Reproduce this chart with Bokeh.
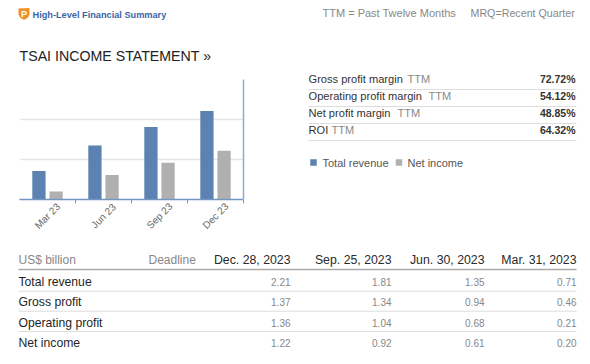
from bokeh.plotting import figure
from bokeh.models import Range1d, ColumnDataSource, FixedTicker
from bokeh.core.properties import value
from bokeh.transform import dodge
from bokeh.embed import file_html
from bokeh.resources import INLINE

quarters = ["Mar 23", "Jun 23", "Sep 23", "Dec 23"]
total_revenue = [0.71, 1.35, 1.81, 2.21]
gross_profit = [0.46, 0.94, 1.34, 1.37]
operating_profit = [0.21, 0.68, 1.04, 1.36]
net_income = [0.20, 0.61, 0.92, 1.22]
deadlines = ["Mar. 31, 2023", "Jun. 30, 2023", "Sep. 25, 2023", "Dec. 28, 2023"]
kpi_names = ["Gross profit margin", "Operating profit margin", "Net profit margin", "ROI"]
kpi_values = ["72.72%", "54.12%", "48.85%", "64.32%"]
row_names = ["Total revenue", "Gross profit", "Operating profit", "Net income"]

FONT = "Liberation Sans"
BLUE, GREY = "#5b82b0", "#b0b0b0"

# page pixels of the plot frame
FL, FR, FT, FB = 19, 243, 79, 199
W, H = 584, 356

p = figure(width=W, height=H, output_backend="svg", toolbar_location=None,
           x_range=Range1d(0, len(quarters)), y_range=Range1d(0, 3),
           min_border_left=FL, min_border_right=W - FR,
           min_border_top=FT, min_border_bottom=H - FB,
           outline_line_color=None, background_fill_color="white")
p.extra_x_ranges["page"] = Range1d(FL, FR)
p.extra_y_ranges["page"] = Range1d(FB, FT)

centers = [i + 0.5 for i in range(len(quarters))]
edges = [i + 1 for i in range(len(quarters))]

# axes
p.yaxis.visible = False
p.xaxis.ticker = FixedTicker(ticks=[], minor_ticks=edges)
p.xaxis.axis_line_color = "#7396c0"
p.xaxis.axis_line_width = 1.5
p.xaxis.minor_tick_line_color = "#7396c0"
p.xaxis.minor_tick_in = 0
p.xaxis.minor_tick_out = 4
p.xgrid.visible = False
p.ygrid.grid_line_color = "#e6e6e6"
p.ygrid.grid_line_width = 1.5
p.ygrid.ticker = FixedTicker(ticks=[0, 1, 2, 3])

src = ColumnDataSource(dict(c=centers, q=quarters, rev=total_revenue, net=net_income, ly=[-0.41] * 4))
p.vbar(x=dodge("c", -0.153), top="rev", width=0.237, source=src, fill_color=BLUE, line_color=None)
p.vbar(x=dodge("c", 0.153), top="net", width=0.237, source=src, fill_color=GREY, line_color=None)
p.text(x="c", y="ly", text="q", source=src, angle=0.785, level="overlay", text_align="center",
       text_baseline="middle", text_font=value(FONT), text_font_size="10px", text_color="#666666")

# right-hand edge
p.segment(x0=[FR], x1=[FR], y0=[FT], y1=[FB], x_range_name="page", y_range_name="page",
          line_color="#8fabcc", line_width=1.5, level="overlay")


def txt(x, y, s, size, color, align="left", style="normal"):
    p.text(x=[x], y=[y], text=[s], x_range_name="page", y_range_name="page", level="overlay",
           text_font=value(FONT), text_font_size=f"{size}px", text_color=color,
           text_align=align, text_baseline="middle", text_font_style=style)


def hline(x0, x1, y, color, width=1):
    p.segment(x0=[x0], x1=[x1], y0=[y], y1=[y], x_range_name="page", y_range_name="page",
              line_color=color, line_width=width, level="overlay")


# logo
p.patch(x=[18, 29, 29, 27.5, 23.5, 19.5, 18], y=[8, 7.5, 14, 17, 19.5, 17, 14],
        x_range_name="page", y_range_name="page", fill_color="#f0902a", line_color=None, level="overlay")
txt(23.5, 13.5, "P", 9, "white", "center", "bold")

txt(32, 14, "High-Level Financial Summary", 9.2, "#3a66a8", style="bold")
txt(322, 12.5, "TTM = Past Twelve Months", 11, "#888888")
txt(470, 12.5, "MRQ=Recent Quarter", 10.7, "#888888")
txt(19, 55, "TSAI INCOME STATEMENT »", 14.2, "#222222")

# KPI block
kpi_y = [78.5, 95.5, 112.5, 129.5]
kpi_line = [89, 106, 123, 140]
kpi_ttm_x = [407, 428, 397, 331]
for n, v, y, ly, tx in zip(kpi_names, kpi_values, kpi_y, kpi_line, kpi_ttm_x):
    txt(308, y, n, 11.1, "#333333")
    txt(tx, y, "TTM", 11, "#888888")
    txt(575, y, v, 10.5, "#333333", "right", "bold")
    hline(308, 576, ly, "#dddddd", 1)

# legend
p.rect(x=[313, 398.5], y=[162, 162], width=6.5, height=6.5, x_range_name="page", y_range_name="page",
       fill_color=[BLUE, GREY], line_color=None, level="overlay")
txt(322, 162, "Total revenue", 11, "#555555")
txt(407, 162, "Net income", 11, "#555555")

# table
col_x = [576, 484, 391, 290]
txt(18, 259, "US$ billion", 12, "#888888")
txt(148, 259, "Deadline", 12, "#888888")
for d, x in zip(deadlines, col_x):
    txt(x, 259, d, 12.3, "#2a2a2a", "right")
hline(18, 576, 269, "#aaaaaa", 1.5)
row_y = [281, 301, 322, 342]
row_line = [290.7, 310.7, 331, None]
rows = [total_revenue, gross_profit, operating_profit, net_income]
for n, vals, y, ly in zip(row_names, rows, row_y, row_line):
    txt(18, y, n, 12.2, "#1f1f1f")
    for val, x in zip(vals, col_x):
        txt(x, y, f"{val:.2f}", 10, "#888888", "right")
    if ly:
        hline(18, 576, ly, "#dddddd", 1)

open("out.html", "w").write(file_html(p, INLINE))
